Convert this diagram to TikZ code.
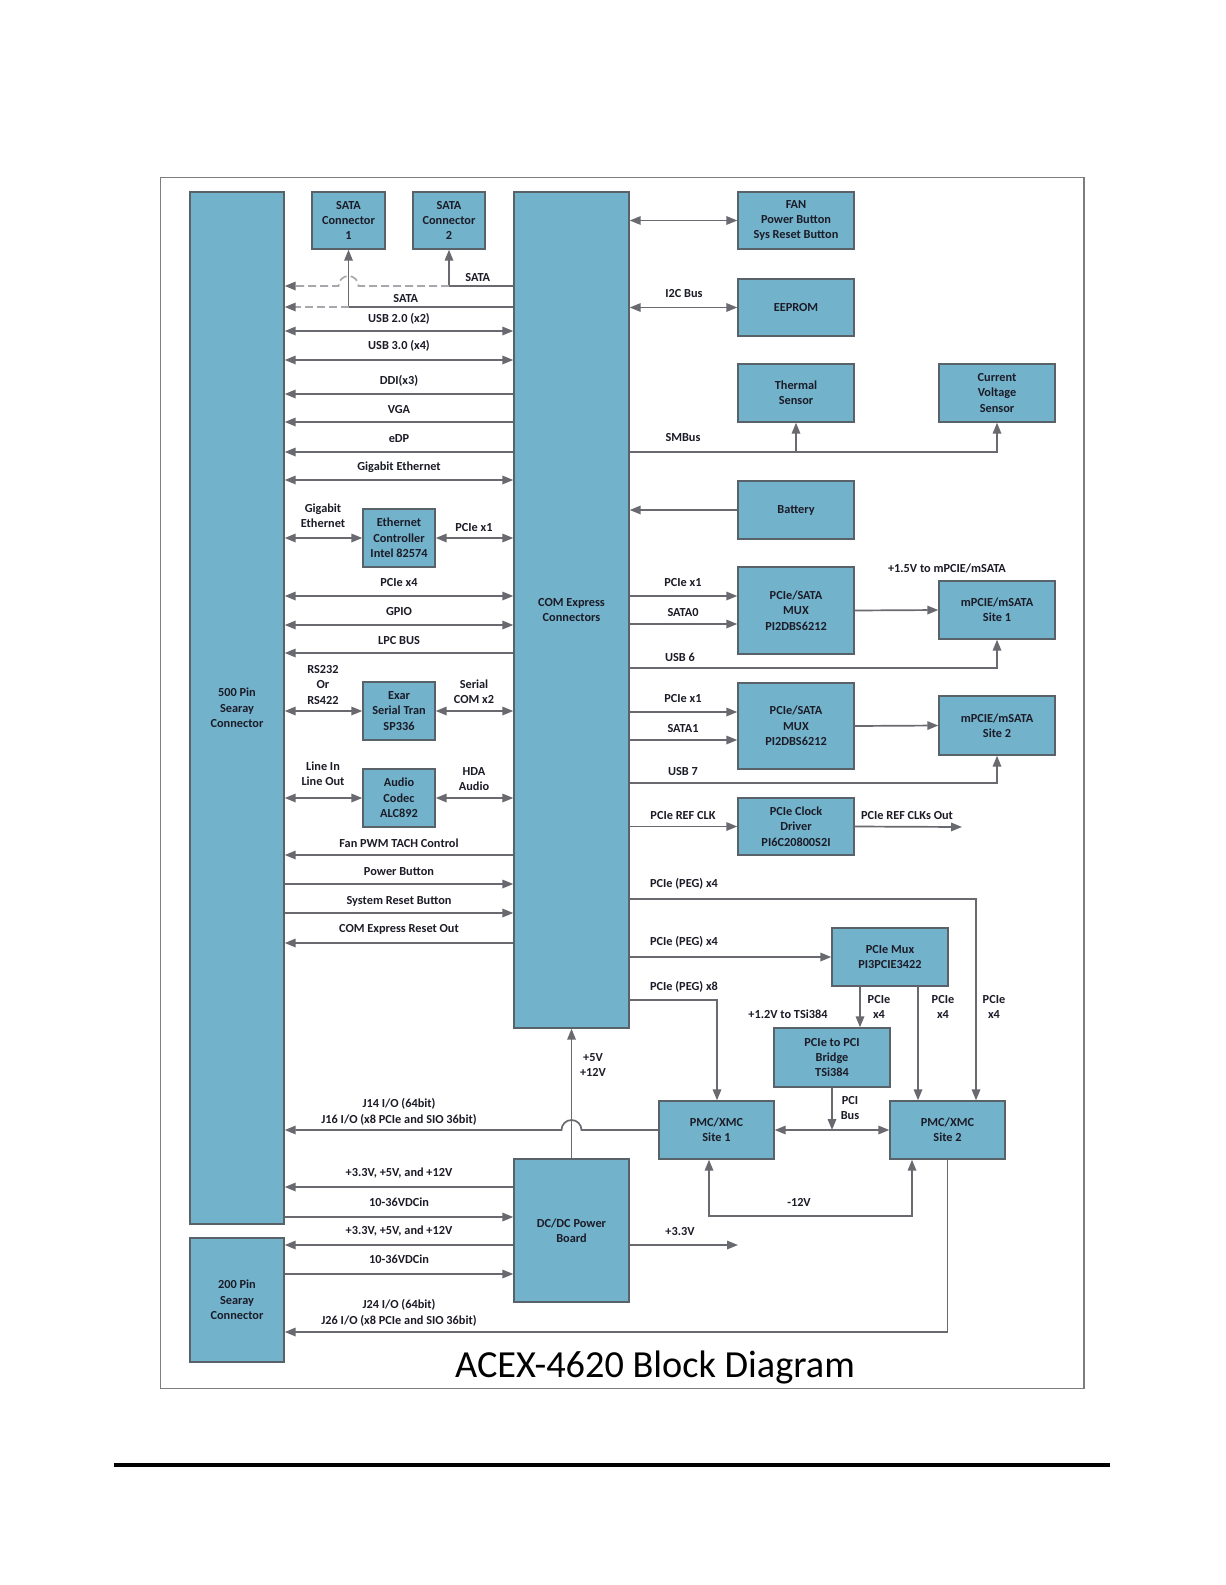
\documentclass[tikz,border=0pt]{standalone}
\usepackage{fontspec}
\setmainfont{Carlito}
\usetikzlibrary{arrows.meta}
\definecolor{boxfill}{RGB}{114,178,203}
\definecolor{boxline}{RGB}{88,98,104}
\definecolor{conn}{RGB}{105,105,112}
\definecolor{dashc}{RGB}{168,168,172}
\definecolor{txt}{RGB}{28,28,40}
\definecolor{framec}{RGB}{125,125,125}
\begin{document}
\begin{tikzpicture}[x=1bp,y=-1bp,
  every node/.style={font=\fontsize{12.3bp}{15.3bp}\selectfont\bfseries, text=txt},
  blk/.style={draw=boxline, line width=1.4bp, fill=boxfill, align=center, inner sep=0pt},
  lbl/.style={align=center, inner sep=0pt},
  ln/.style={draw=conn, line width=1.7bp},
  ar/.style={ln, -{Triangle[length=11bp,width=8.5bp]}},
  ba/.style={ln, {Triangle[length=11bp,width=8.5bp]}-{Triangle[length=11bp,width=8.5bp]}},
  dl/.style={draw=dashc, line width=1.7bp, dash pattern=on 8bp off 4bp, -{Triangle[length=11bp,width=8.5bp,color=conn]}}
]
\fill[white] (0,0) rectangle (1225,1585);
\useasboundingbox (0,0) rectangle (1225,1585);

% frame and bottom rule
\draw[framec, line width=1.6bp] (160.5,177.5) rectangle (1084,1388.5);
\draw[black, line width=4bp] (114,1465) -- (1110,1465);

% blocks
\node[blk, minimum width=94bp, minimum height=1032bp] (p500) at (237,708) {500 Pin\\Searay\\Connector};
\node[blk, minimum width=94bp, minimum height=124bp] (p200) at (237,1300) {200 Pin\\Searay\\Connector};
\node[blk, minimum width=73bp, minimum height=57bp] (sata1) at (348.5,220.5) {SATA\\Connector\\1};
\node[blk, minimum width=72bp, minimum height=57bp] (sata2) at (449,220.5) {SATA\\Connector\\2};
\node[blk, minimum width=115bp, minimum height=836bp] (com) at (571.5,610) {COM Express\\Connectors};
\node[blk, minimum width=116bp, minimum height=57bp] (fan) at (796,220.5) {FAN\\Power Button\\Sys Reset Button};
\node[blk, minimum width=116bp, minimum height=57bp] (eeprom) at (796,307.5) {EEPROM};
\node[blk, minimum width=116bp, minimum height=58bp] (thermal) at (796,393) {Thermal\\Sensor};
\node[blk, minimum width=116bp, minimum height=58bp] (cvs) at (997,393) {Current\\Voltage\\Sensor};
\node[blk, minimum width=116bp, minimum height=58bp] (battery) at (796,510) {Battery};
\node[blk, minimum width=72bp, minimum height=58bp] (eth) at (399,538) {Ethernet\\Controller\\Intel 82574};
\node[blk, minimum width=72bp, minimum height=58bp] (exar) at (399,711) {Exar\\Serial Tran\\SP336};
\node[blk, minimum width=72bp, minimum height=58bp] (audio) at (399,798) {Audio\\Codec\\ALC892};
\node[blk, minimum width=116bp, minimum height=87bp] (mux1) at (796,610.5) {PCIe/SATA\\MUX\\PI2DBS6212};
\node[blk, minimum width=116bp, minimum height=58bp] (site1m) at (997,610) {mPCIE/mSATA\\Site 1};
\node[blk, minimum width=116bp, minimum height=86bp] (mux2) at (796,726) {PCIe/SATA\\MUX\\PI2DBS6212};
\node[blk, minimum width=116bp, minimum height=59bp] (site2m) at (997,725.5) {mPCIE/mSATA\\Site 2};
\node[blk, minimum width=116bp, minimum height=57bp] (clk) at (796,826.5) {PCIe Clock\\Driver\\PI6C20800S2I};
\node[blk, minimum width=116bp, minimum height=58bp] (pmux) at (890,957) {PCIe Mux\\PI3PCIE3422};
\node[blk, minimum width=116bp, minimum height=59bp] (bridge) at (832,1057.5) {PCIe to PCI\\Bridge\\TSi384};
\node[blk, minimum width=115bp, minimum height=58bp] (pmc1) at (716.5,1130) {PMC/XMC\\Site 1};
\node[blk, minimum width=115bp, minimum height=58bp] (pmc2) at (947.5,1130) {PMC/XMC\\Site 2};
\node[blk, minimum width=115bp, minimum height=143bp] (dcdc) at (571.5,1230.5) {DC/DC Power\\Board};

% helper coordinates
\coordinate (pegA) at (976,899);
\coordinate (pegB) at (717,1000);
\coordinate (m12a) at (709,1216);
\coordinate (m12b) at (912,1216);
\coordinate (v33) at (738,1245);
\coordinate (clkout) at (962,827);

% ---- left side connectors
\draw[ln] (com.west |- 0,286) -- (sata2.south |- 0,286);
\draw[ar] (sata2.south |- 0,286) -- (sata2.south);
\draw[dl] (sata2.south |- 0,286) -- (358.5,286) arc[start angle=0,end angle=180,radius=10bp] -- (p500.east |- 0,286);
\draw[ln] (com.west |- 0,307) -- (sata1.south |- 0,307);
\draw[ar] (sata1.south |- 0,307) -- (sata1.south);
\draw[dl] (sata1.south |- 0,307) -- (p500.east |- 0,307);
\draw[ba] (p500.east |- 0,331) -- (com.west |- 0,331);
\draw[ba] (p500.east |- 0,360) -- (com.west |- 0,360);
\draw[ar] (com.west |- 0,394) -- (p500.east |- 0,394);
\draw[ar] (com.west |- 0,422) -- (p500.east |- 0,422);
\draw[ar] (com.west |- 0,452) -- (p500.east |- 0,452);
\draw[ba] (p500.east |- 0,480) -- (com.west |- 0,480);
\draw[ba] (p500.east |- eth.west) -- (eth.west);
\draw[ba] (eth.east) -- (com.west |- eth.east);
\draw[ba] (p500.east |- 0,596) -- (com.west |- 0,596);
\draw[ba] (p500.east |- 0,625) -- (com.west |- 0,625);
\draw[ar] (com.west |- 0,653) -- (p500.east |- 0,653);
\draw[ba] (p500.east |- exar.west) -- (exar.west);
\draw[ba] (exar.east) -- (com.west |- exar.east);
\draw[ba] (p500.east |- audio.west) -- (audio.west);
\draw[ba] (audio.east) -- (com.west |- audio.east);
\draw[ar] (com.west |- 0,855) -- (p500.east |- 0,855);
\draw[ar] (p500.east |- 0,884) -- (com.west |- 0,884);
\draw[ar] (p500.east |- 0,913) -- (com.west |- 0,913);
\draw[ar] (com.west |- 0,943) -- (p500.east |- 0,943);
\draw[ar] (pmc1.west) -- (581.5,1130) arc[start angle=0,end angle=180,radius=10bp] -- (p500.east |- 0,1130);
\draw[ar] (dcdc.west |- 0,1187) -- (p500.east |- 0,1187);
\draw[ar] (p500.east |- 0,1217) -- (dcdc.west |- 0,1217);
\draw[ar] (dcdc.west |- 0,1245) -- (p200.east |- 0,1245);
\draw[ar] (p200.east |- 0,1274) -- (dcdc.west |- 0,1274);
\draw[ar] (pmc2.south) -- (pmc2.south |- 0,1332) -- (p200.east |- 0,1332);
\draw[ar] (dcdc.north) -- (com.south);

% ---- right side connectors
\draw[ba] (com.east |- fan.west) -- (fan.west);
\draw[ba] (com.east |- eeprom.west) -- (eeprom.west);
\draw[ar] (com.east |- 0,452) -- (cvs.south |- 0,452) -- (cvs.south);
\draw[ar] (thermal.south |- 0,452) -- (thermal.south);
\draw[ar] (battery.west) -- (com.east |- battery.west);
\draw[ar] (com.east |- 0,596) -- (mux1.west |- 0,596);
\draw[ar] (com.east |- 0,624) -- (mux1.west |- 0,624);
\draw[ar] (com.east |- 0,668) -- (site1m.south |- 0,668) -- (site1m.south);
\draw[ar] (mux1.east) -- (site1m.west);
\draw[ar] (com.east |- 0,712) -- (mux2.west |- 0,712);
\draw[ar] (com.east |- 0,740) -- (mux2.west |- 0,740);
\draw[ar] (com.east |- 0,783) -- (site2m.south |- 0,783) -- (site2m.south);
\draw[ar] (mux2.east) -- (site2m.west);
\draw[ar] (com.east |- clk.west) -- (clk.west);
\draw[ar] (clk.east) -- (clkout);
\draw[ar] (com.east |- pegA) -- (pegA) -- (pegA |- pmc2.north);
\draw[ar] (com.east |- pmux.west) -- (pmux.west);
\draw[ar] (com.east |- pegB) -- (pegB) -- (pegB |- pmc1.north);
\draw[ar] (pmux.south -| 860,0) -- (bridge.north -| 860,0);
\draw[ar] (pmux.south -| 918,0) -- (pmc2.north -| 918,0);
\draw[ar] (bridge.south) -- (bridge.south |- pmc1.east);
\draw[ba] (pmc1.east) -- (pmc2.west);
\draw[ba] (m12a |- pmc1.south) -- (m12a) -- (m12b) -- (m12b |- pmc2.south);
\draw[ar] (dcdc.east |- v33) -- (v33);

% ---- labels left
\node[lbl] (L1) at (477.7,278) {SATA};
\node[lbl] (L2) at (405.7,299) {SATA};
\node[lbl] (L3) at (399,319) {USB 2.0 (x2)};
\node[lbl] (L4) at (399,346) {USB 3.0 (x4)};
\node[lbl] (L5) at (399,381) {DDI(x3)};
\node[lbl] (L6) at (399,410) {VGA};
\node[lbl] (L7) at (399,439) {eDP};
\node[lbl] (L8) at (399,467) {Gigabit Ethernet};
\node[lbl] (L9) at (323,516) {Gigabit\\Ethernet};
\node[lbl] (L10) at (474,528) {PCIe x1};
\node[lbl] (L11) at (399,583) {PCIe x4};
\node[lbl] (L12) at (399,612) {GPIO};
\node[lbl] (L13) at (399,641) {LPC BUS};
\node[lbl] (L14) at (323,685) {RS232\\Or\\RS422};
\node[lbl] (L15) at (474,692) {Serial\\COM x2};
\node[lbl] (L16) at (323,774) {Line In\\Line Out};
\node[lbl] (L17) at (474,779) {HDA\\Audio};
\node[lbl] (L18) at (399,843) {Fan PWM TACH Control};
\node[lbl] (L19) at (399,872) {Power Button};
\node[lbl] (L20) at (399,901) {System Reset Button};
\node[lbl] (L21) at (399,929) {COM Express Reset Out};
\node[lbl] (L22) at (399,1112) {J14 I/O (64bit)\\J16 I/O (x8 PCIe and SIO 36bit)};
\node[lbl] (L23) at (399,1173) {+3.3V, +5V, and +12V};
\node[lbl] (L24) at (399,1202) {10-36VDCin};
\node[lbl] (L25) at (399,1231) {+3.3V, +5V, and +12V};
\node[lbl] (L26) at (399,1259) {10-36VDCin};
\node[lbl] (L27) at (399,1313) {J24 I/O (64bit)\\J26 I/O (x8 PCIe and SIO 36bit)};
\node[lbl] (L28) at (593,1065) {+5V\\+12V};

% ---- labels right
\node[lbl] (R1) at (684,294) {I2C Bus};
\node[lbl] (R2) at (683,438) {SMBus};
\node[lbl] (R3) at (683,583) {PCIe x1};
\node[lbl] (R4) at (683,613) {SATA0};
\node[lbl] (R5) at (680,657) {USB 6};
\node[lbl] (R6) at (947,568) {+1.5V to mPCIE/mSATA};
\node[lbl] (R7) at (683,699) {PCIe x1};
\node[lbl] (R8) at (683,729) {SATA1};
\node[lbl] (R9) at (683,772) {USB 7};
\node[lbl] (R10) at (683,816) {PCIe REF CLK};
\node[lbl] (R11) at (907,816) {PCIe REF CLKs Out};
\node[lbl] (R12) at (684,884) {PCIe (PEG) x4};
\node[lbl] (R13) at (684,942) {PCIe (PEG) x4};
\node[lbl] (R14) at (684,987) {PCIe (PEG) x8};
\node[lbl] (R15) at (879,1007) {PCIe\\x4};
\node[lbl] (R16) at (943,1007) {PCIe\\x4};
\node[lbl] (R17) at (994,1007) {PCIe\\x4};
\node[lbl] (R18) at (788,1014) {+1.2V to TSi384};
\node[lbl] (R19) at (850,1108) {PCI\\Bus};
\node[lbl] (R20) at (799,1202) {-12V};
\node[lbl] (R21) at (680,1231) {+3.3V};

% title
\node[lbl, anchor=base, font=\fontsize{38.3bp}{46bp}\selectfont, text=black] (title) at (655,1377) {ACEX-4620 Block Diagram};
\end{tikzpicture}
\end{document}
